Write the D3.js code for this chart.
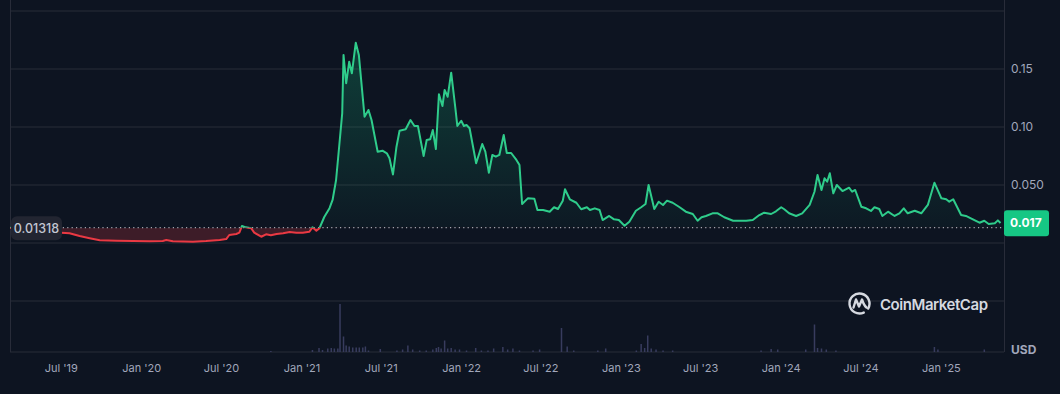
<!DOCTYPE html>
<html>
<head>
<meta charset="utf-8">
<script src="https://cdn.jsdelivr.net/npm/d3@7"></script>
<style>
  html, body { margin: 0; padding: 0; background: #0d1421; }
  svg { display: block; font-family: Inter, "Noto Sans", sans-serif; }
</style>
</head>
<body>
<svg class="chart"></svg>
<script>
const priceDates = [
  "2019-03-06","2019-04-10","2019-05-20","2019-07-01","2019-07-20","2019-08-12","2019-09-04","2019-09-27",
  "2019-11-04","2019-12-12","2020-01-19","2020-02-18","2020-02-26","2020-03-12","2020-04-27","2020-05-27",
  "2020-06-27","2020-07-12","2020-07-19","2020-08-04","2020-08-11","2020-08-17","2020-08-26","2020-09-07",
  "2020-09-14","2020-09-30","2020-10-11","2020-10-22","2020-11-04","2020-11-19","2020-12-04","2020-12-19",
  "2021-01-03","2021-01-18","2021-01-25","2021-02-03","2021-02-10","2021-02-21","2021-03-05","2021-03-12",
  "2021-03-20","2021-03-27","2021-04-03","2021-04-06","2021-04-12","2021-04-19","2021-04-25","2021-05-04",
  "2021-05-11","2021-05-24","2021-06-02","2021-06-09","2021-06-23","2021-07-04","2021-07-14","2021-07-20",
  "2021-07-28","2021-08-05","2021-08-12","2021-08-26","2021-09-06","2021-09-15","2021-09-23","2021-10-06",
  "2021-10-13","2021-10-21","2021-10-27","2021-11-03","2021-11-10","2021-11-18","2021-11-23","2021-11-30",
  "2021-12-08","2021-12-18","2021-12-22","2021-12-31","2022-01-06","2022-01-12","2022-01-19","2022-02-03",
  "2022-02-17","2022-02-24","2022-03-04","2022-03-12","2022-03-20","2022-03-28","2022-04-07","2022-04-14",
  "2022-04-24","2022-05-06","2022-05-13","2022-05-19","2022-06-01","2022-06-16","2022-06-23","2022-07-06",
  "2022-07-21","2022-07-31","2022-08-09","2022-08-20","2022-08-25","2022-09-05","2022-09-20","2022-10-01",
  "2022-10-14","2022-10-21","2022-11-01","2022-11-12","2022-11-19","2022-12-04","2022-12-15","2022-12-26",
  "2023-01-08","2023-01-19","2023-02-03","2023-02-15","2023-02-25","2023-03-04","2023-03-17","2023-03-27",
  "2023-04-06","2023-04-15","2023-04-28","2023-05-14","2023-05-28","2023-06-13","2023-06-24","2023-07-03",
  "2023-07-13","2023-07-28","2023-08-09","2023-08-24","2023-09-13","2023-09-27","2023-10-13","2023-10-28",
  "2023-11-12","2023-11-23","2023-12-09","2023-12-20","2024-01-01","2024-01-08","2024-01-19","2024-02-04",
  "2024-02-18","2024-03-06","2024-03-17","2024-03-24","2024-04-02","2024-04-09","2024-04-15","2024-04-21",
  "2024-04-29","2024-05-07","2024-05-20","2024-06-04","2024-06-11","2024-06-18","2024-07-02","2024-07-13",
  "2024-07-24","2024-08-01","2024-08-12","2024-08-19","2024-09-01","2024-09-16","2024-09-27","2024-10-07",
  "2024-10-16","2024-11-01","2024-11-16","2024-12-01","2024-12-16","2025-01-01","2025-01-12","2025-01-19",
  "2025-01-28","2025-02-15","2025-02-26","2025-03-14","2025-03-29","2025-04-09","2025-04-19","2025-05-03",
  "2025-05-10","2025-05-16"
];

const prices = [
  0.01318,0.0112,0.0095,0.0089,0.0084,0.0060,0.0041,0.0023,
  0.0020,0.0017,0.0015,0.0017,0.0026,0.0015,0.0011,0.0017,
  0.0026,0.0034,0.0069,0.0078,0.0089,0.0147,0.0135,0.0127,
  0.0089,0.0054,0.0075,0.0066,0.0078,0.0084,0.0095,0.0089,
  0.0089,0.0097,0.0135,0.0106,0.0127,0.0224,0.0300,0.0371,
  0.0543,0.0830,0.1118,0.1621,0.1377,0.1563,0.1463,0.1727,
  0.1621,0.1089,0.1147,0.1060,0.0787,0.0796,0.0773,0.0730,
  0.0591,0.0830,0.0968,0.0980,0.1060,0.1009,0.1009,0.0750,
  0.0888,0.0894,0.0974,0.0810,0.1282,0.1181,0.1319,0.1261,
  0.1468,0.1147,0.1009,0.1054,0.1009,0.1017,0.0989,0.0687,
  0.0853,0.0787,0.0606,0.0759,0.0744,0.0759,0.0931,0.0776,
  0.0776,0.0716,0.0672,0.0336,0.0385,0.0382,0.0284,0.0284,
  0.0270,0.0308,0.0293,0.0365,0.0463,0.0377,0.0347,0.0291,
  0.0308,0.0284,0.0299,0.0284,0.0198,0.0233,0.0204,0.0198,
  0.0149,0.0184,0.0278,0.0308,0.0336,0.0500,0.0293,0.0356,
  0.0328,0.0365,0.0347,0.0308,0.0270,0.0250,0.0192,0.0222,
  0.0233,0.0256,0.0256,0.0222,0.0192,0.0192,0.0192,0.0198,
  0.0241,0.0261,0.0250,0.0273,0.0308,0.0291,0.0256,0.0233,
  0.0256,0.0328,0.0442,0.0586,0.0457,0.0558,0.0528,0.0601,
  0.0428,0.0500,0.0448,0.0477,0.0442,0.0457,0.0313,0.0299,
  0.0276,0.0308,0.0293,0.0233,0.0270,0.0233,0.0256,0.0299,
  0.0256,0.0278,0.0256,0.0328,0.0520,0.0385,0.0377,0.0356,
  0.0377,0.0241,0.0233,0.0204,0.0175,0.0192,0.0164,0.0170,
  0.0195,0.0172
];

const volumeDates = [
  "2020-10-22","2021-01-25","2021-02-09","2021-02-17","2021-03-01","2021-03-09","2021-03-16","2021-03-24",
  "2021-03-29","2021-04-06","2021-04-12","2021-04-19","2021-04-27","2021-05-05","2021-05-12","2021-05-20",
  "2021-05-26","2021-06-02","2021-06-29","2021-08-06","2021-08-19","2021-08-31","2021-09-11","2021-09-27",
  "2021-10-12","2021-10-27","2021-11-04","2021-11-09","2021-11-15","2021-11-23","2021-11-30","2021-12-08",
  "2021-12-17","2021-12-27","2022-01-12","2022-02-02","2022-02-15","2022-03-02","2022-03-15","2022-04-05",
  "2022-04-16","2022-04-28","2022-05-13","2022-06-13","2022-06-28","2022-08-17","2022-08-30","2022-09-14",
  "2022-11-08","2022-11-26","2023-02-04","2023-02-15","2023-02-23","2023-03-02","2023-03-10","2023-03-21",
  "2023-04-06","2023-04-28","2023-11-16","2023-12-09","2023-12-24","2024-02-26","2024-03-17","2024-03-24",
  "2024-04-02","2024-04-13","2024-05-05","2024-12-16","2024-12-24","2025-04-09"
];

// volume, millions USD
const volumes = [
  2,4,8,4,7,8,7,7,
  96,31,13,11,9,9,9,9,
  11,3,6,3,5,13,5,3,
  3,5,8,10,7,23,7,8,
  5,5,3,8,3,3,7,10,
  5,7,3,3,5,48,11,3,
  3,7,3,16,8,33,7,5,
  3,3,3,6,5,5,55,8,
  7,5,3,10,5,5
];

const priceTicks = [0.05, 0.10, 0.15];
const priceTickLabels = ["0.050", "0.10", "0.15"];
const gridValues = [-0.05, 0, 0.05, 0.10, 0.15, 0.20];
const timeTicks = ["2019-07-01","2020-01-01","2020-07-01","2021-01-01","2021-07-01","2022-01-01",
  "2022-07-01","2023-01-01","2023-07-01","2024-01-01","2024-07-01","2025-01-01"];
const timeTickLabels = ["Jul '19","Jan '20","Jul '20","Jan '21","Jul '21","Jan '22",
  "Jul '22","Jan '23","Jul '23","Jan '24","Jul '24","Jan '25"];
const basePrice = 0.01318;
const lastPrice = 0.017;

const width = 1060;
const height = 394;
const left = 10, right = 1004, bottom = 352;

const parse = d3.utcParse('%Y-%m-%d');
const data = priceDates.map((d, i) => ({ date: parse(d), value: prices[i] }));
const vol = volumeDates.map((d, i) => ({ date: parse(d), value: volumes[i] }));

const x = d3.scaleUtc()
  .domain([parse('2019-03-06'), parse('2025-05-24')])
  .range([left, right]);

const y = d3.scaleLinear()
  .domain([-0.05, 0.20])
  .range([301, 11]);

const yVol = d3.scaleLinear()
  .domain([0, d3.max(volumes)])
  .range([bottom, 304]);

const svg = d3.select('.chart')
  .attr('width', width)
  .attr('height', height);

const defs = svg.append('defs');

const grad = defs.append('linearGradient')
  .attr('id', 'greenFill')
  .attr('gradientUnits', 'userSpaceOnUse')
  .attr('x1', 0).attr('x2', 0)
  .attr('y1', y(0.17)).attr('y2', y(basePrice));
grad.append('stop').attr('offset', 0).attr('stop-color', '#16c784').attr('stop-opacity', 0.24);
grad.append('stop').attr('offset', 1).attr('stop-color', '#16c784').attr('stop-opacity', 0.03);

defs.append('clipPath').attr('id', 'above')
  .append('rect')
  .attr('x', left).attr('y', 0)
  .attr('width', right - left).attr('height', y(basePrice));

defs.append('clipPath').attr('id', 'below')
  .append('rect')
  .attr('x', left).attr('y', y(basePrice))
  .attr('width', right - left).attr('height', bottom - y(basePrice));

// grid
svg.append('g')
  .selectAll('line')
  .data(gridValues)
  .enter().append('line')
    .attr('x1', left).attr('x2', right)
    .attr('y1', d => y(d)).attr('y2', d => y(d))
    .attr('stroke', '#282c39')
    .attr('stroke-width', 1);

svg.append('line')
  .attr('x1', left).attr('x2', right)
  .attr('y1', bottom).attr('y2', bottom)
  .attr('stroke', '#282c39');

svg.append('line')
  .attr('x1', left + 0.5).attr('x2', left + 0.5)
  .attr('y1', 0).attr('y2', bottom)
  .attr('stroke', '#282c39');

svg.append('line')
  .attr('x1', right + 0.5).attr('x2', right + 0.5)
  .attr('y1', 0).attr('y2', bottom)
  .attr('stroke', '#282c39');

// volume
svg.append('g')
  .selectAll('rect')
  .data(vol)
  .enter().append('rect')
    .attr('x', d => x(d.date) - 0.75)
    .attr('y', d => yVol(d.value))
    .attr('width', 1.5)
    .attr('height', d => bottom - yVol(d.value))
    .attr('fill', '#383c5e');

// price areas
const area = d3.area()
  .x(d => x(d.date))
  .y0(y(basePrice))
  .y1(d => y(d.value));

const line = d3.line()
  .x(d => x(d.date))
  .y(d => y(d.value));

svg.append('path')
  .datum(data)
  .attr('clip-path', 'url(#above)')
  .attr('d', area)
  .attr('fill', 'url(#greenFill)');

svg.append('path')
  .datum(data)
  .attr('clip-path', 'url(#below)')
  .attr('d', area)
  .attr('fill', 'rgba(234,57,67,0.22)');

svg.append('line')
  .attr('x1', left).attr('x2', right)
  .attr('y1', y(basePrice)).attr('y2', y(basePrice))
  .attr('stroke', '#c9ccd4')
  .attr('stroke-width', 1)
  .attr('stroke-dasharray', '1.2,3.2');

svg.append('path')
  .datum(data)
  .attr('clip-path', 'url(#above)')
  .attr('d', line)
  .attr('fill', 'none')
  .attr('stroke', '#2fcc8b')
  .attr('stroke-width', 2)
  .attr('stroke-linejoin', 'round');

svg.append('path')
  .datum(data)
  .attr('clip-path', 'url(#below)')
  .attr('d', line)
  .attr('fill', 'none')
  .attr('stroke', '#ea3943')
  .attr('stroke-width', 2)
  .attr('stroke-linejoin', 'round');

// y labels
svg.append('g')
  .selectAll('text')
  .data(priceTicks)
  .enter().append('text')
    .attr('x', 1011)
    .attr('y', d => y(d))
    .attr('dy', '0.35em')
    .attr('fill', '#a1a7bb')
    .attr('font-size', 12)
    .text((d, i) => priceTickLabels[i]);

// x labels
svg.append('g')
  .selectAll('text')
  .data(timeTicks)
  .enter().append('text')
    .attr('x', d => x(parse(d)))
    .attr('y', 368)
    .attr('dy', '0.35em')
    .attr('text-anchor', 'middle')
    .attr('fill', '#a1a7bb')
    .attr('font-size', 11)
    .text((d, i) => timeTickLabels[i]);

svg.append('text')
  .attr('x', 1011)
  .attr('y', 350)
  .attr('dy', '0.35em')
  .attr('fill', '#a1a7bb')
  .attr('font-size', 12)
  .attr('font-weight', 700)
  .text('USD');

// base price badge
svg.append('rect')
  .attr('x', 11).attr('y', y(basePrice) - 11.5)
  .attr('width', 51).attr('height', 24)
  .attr('rx', 6)
  .attr('fill', '#222531');

svg.append('text')
  .attr('x', 36.5).attr('y', y(basePrice) + 1)
  .attr('dy', '0.35em')
  .attr('text-anchor', 'middle')
  .attr('fill', '#c3c7d1')
  .attr('font-size', 12.5)
  .attr('font-weight', 500)
  .text(d3.format('.5f')(basePrice));

// last price badge
svg.append('rect')
  .attr('x', right).attr('y', y(lastPrice) - 13)
  .attr('width', 45).attr('height', 26)
  .attr('rx', 3)
  .attr('fill', '#16c784');

svg.append('text')
  .attr('x', 1010).attr('y', y(lastPrice))
  .attr('dy', '0.35em')
  .attr('fill', '#ffffff')
  .attr('font-size', 12)
  .attr('font-weight', 700)
  .text(d3.format('.3f')(lastPrice));

// watermark
const logo = svg.append('g')
  .attr('transform', 'translate(859.5,303.5)')
  .attr('fill', 'none')
  .attr('stroke', '#d6d9e0')
  .attr('stroke-width', 2.4)
  .attr('stroke-linecap', 'round')
  .attr('stroke-linejoin', 'round');

logo.append('path')
  .attr('d', d3.arc()({ innerRadius: 10, outerRadius: 10, startAngle: 2.7, endAngle: 2 * Math.PI + 2.1 }));

logo.append('path')
  .attr('d', 'M-6,4 L-3.5,-4 L-0.5,3 L2.5,-4 Q4.5,2 7,4');

svg.append('text')
  .attr('x', 880).attr('y', 305)
  .attr('dy', '0.35em')
  .attr('fill', '#d6d9e0')
  .attr('font-size', 15)
  .attr('font-weight', 600)
  .attr('textLength', 108)
  .text('CoinMarketCap');
</script>
</body>
</html>
